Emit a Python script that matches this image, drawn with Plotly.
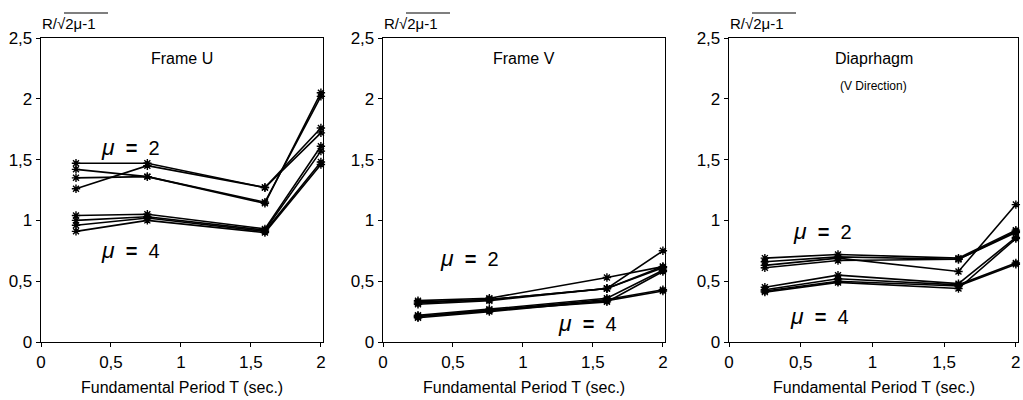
import plotly.graph_objects as go

# ---------------- data ----------------
periods = [0.25, 0.76, 1.6, 2.0]

frame_u_mu2 = [
    [1.47, 1.47, 1.27, 1.76],
    [1.26, 1.45, 1.27, 1.72],
    [1.42, 1.36, 1.14, 2.05],
    [1.35, 1.36, 1.15, 2.02],
]
frame_u_mu4 = [
    [1.04, 1.05, 0.93, 1.61],
    [1.00, 1.03, 0.92, 1.57],
    [0.96, 1.02, 0.91, 1.48],
    [0.91, 1.00, 0.90, 1.46],
]
frame_v_mu2 = [
    [0.34, 0.36, 0.53, 0.62],
    [0.33, 0.35, 0.44, 0.75],
    [0.32, 0.35, 0.44, 0.61],
    [0.31, 0.34, 0.44, 0.62],
]
frame_v_mu4 = [
    [0.22, 0.27, 0.36, 0.59],
    [0.21, 0.26, 0.35, 0.43],
    [0.20, 0.25, 0.34, 0.42],
    [0.21, 0.26, 0.33, 0.58],
]
diaph_mu2 = [
    [0.69, 0.72, 0.69, 0.92],
    [0.66, 0.70, 0.68, 0.91],
    [0.63, 0.69, 0.58, 1.13],
    [0.61, 0.67, 0.68, 0.90],
]
diaph_mu4 = [
    [0.45, 0.55, 0.48, 0.86],
    [0.43, 0.52, 0.47, 0.65],
    [0.42, 0.50, 0.46, 0.64],
    [0.41, 0.49, 0.44, 0.85],
]

x_tickvals = [0, 0.5, 1, 1.5, 2]
x_ticktext = ["0", "0,5", "1", "1,5", "2"]
y_tickvals = [0, 0.5, 1, 1.5, 2, 2.5]
y_ticktext = ["0", "0,5", "1", "1,5", "2", "2,5"]

panel_titles = ["Frame U", "Frame V", "Diaprhagm"]
panel_subtitles = ["", "", "(V Direction)"]
x_title = "Fundamental Period T (sec.)"
y_label = "R/√2μ-1"
mu2_label = "<i><span style='font-size:23px'>μ</span></i>  <b>=</b>  2"
mu4_label = "<i><span style='font-size:23px'>μ</span></i>  <b>=</b>  4"
mu2_pos = [(0.64, 1.60), (0.62, 0.69), (0.65, 0.91)]
mu4_pos = [(0.64, 0.76), (1.46, 0.16), (0.63, 0.21)]

# ---------------- figure ----------------
W, H = 1023, 400
FONT = "Liberation Sans, Arial, sans-serif"


def fx(px):
    return px / W


def fy(py):
    return 1 - py / H


panels = [
    (frame_u_mu2 + frame_u_mu4, (41, 323)),
    (frame_v_mu2 + frame_v_mu4, (383, 665)),
    (diaph_mu2 + diaph_mu4, (729, 1018)),
]
y_dom = [fy(342), fy(38)]

fig = go.Figure()
layout = dict(
    width=W, height=H,
    margin=dict(l=0, r=0, t=0, b=0, autoexpand=False),
    paper_bgcolor="white", plot_bgcolor="white",
    showlegend=False,
    font=dict(family=FONT, color="black"),
)
annotations = []
shapes = []

for i, (series, (px0, px1)) in enumerate(panels):
    n = "" if i == 0 else str(i + 1)
    xa, ya = "x" + n, "y" + n
    for ys in series:
        fig.add_trace(go.Scatter(
            x=periods, y=ys, xaxis=xa, yaxis=ya, mode="lines+markers",
            line=dict(color="black", width=1.6),
            marker=dict(symbol="asterisk-open", size=7,
                        line=dict(color="black", width=1.4)),
            hoverinfo="skip", cliponaxis=False,
        ))
    layout["xaxis" + n] = dict(
        domain=[fx(px0), fx(px1)], range=[0, 2.015], anchor=ya,
        tickvals=x_tickvals, ticktext=x_ticktext, ticks="outside", ticklen=4,
        tickcolor="black", showline=True, linecolor="black", linewidth=1.3,
        mirror=True, showgrid=False, zeroline=False, automargin=False,
        tickfont=dict(size=17, family=FONT), fixedrange=True,
    )
    layout["yaxis" + n] = dict(
        domain=y_dom, range=[0, 2.5], anchor=xa,
        tickvals=y_tickvals, ticktext=y_ticktext, ticks="outside", ticklen=4,
        tickcolor="black", showline=True, linecolor="black", linewidth=1.3,
        mirror=True, showgrid=False, zeroline=False, automargin=False,
        tickfont=dict(size=17, family=FONT), fixedrange=True,
    )
    # panel title
    annotations.append(dict(
        xref="x" + n + " domain", yref="paper",
        x=0.5, y=fy(59), text=panel_titles[i], showarrow=False,
        font=dict(size=16, family=FONT), xanchor="center", yanchor="middle",
    ))
    if panel_subtitles[i]:
        annotations.append(dict(
            xref="x" + n + " domain", yref="paper",
            x=0.5, y=fy(86), text=panel_subtitles[i], showarrow=False,
            font=dict(size=12, family=FONT), xanchor="center", yanchor="middle",
        ))
    # x axis title
    annotations.append(dict(
        xref="x" + n + " domain", yref="paper",
        x=0.5, y=fy(387), text=x_title, showarrow=False,
        font=dict(size=16, family=FONT), xanchor="center", yanchor="middle",
    ))
    # y label above axis
    annotations.append(dict(
        xref="paper", yref="paper",
        x=fx(px0 - 1), y=fy(23), text=y_label, showarrow=False,
        font=dict(size=15, family=FONT), xanchor="left", yanchor="middle",
    ))
    shapes.append(dict(
        type="line", xref="paper", yref="paper",
        x0=fx(px0 + 23), x1=fx(px0 + 67), y0=fy(13), y1=fy(13),
        line=dict(color="black", width=1.2),
    ))
    # mu labels
    for (mx, my), txt in ((mu2_pos[i], mu2_label), (mu4_pos[i], mu4_label)):
        annotations.append(dict(
            xref=xa, yref=ya, x=mx, y=my, text=txt, showarrow=False,
            font=dict(size=20, family=FONT), xanchor="center", yanchor="middle",
        ))

layout["annotations"] = annotations
layout["shapes"] = shapes
fig.update_layout(**layout)
fig.write_html(
    "out.html",
    config={"displayModeBar": False, "staticPlot": True},
    post_script="document.body.style.margin='0';document.body.style.overflow='hidden';",
)
